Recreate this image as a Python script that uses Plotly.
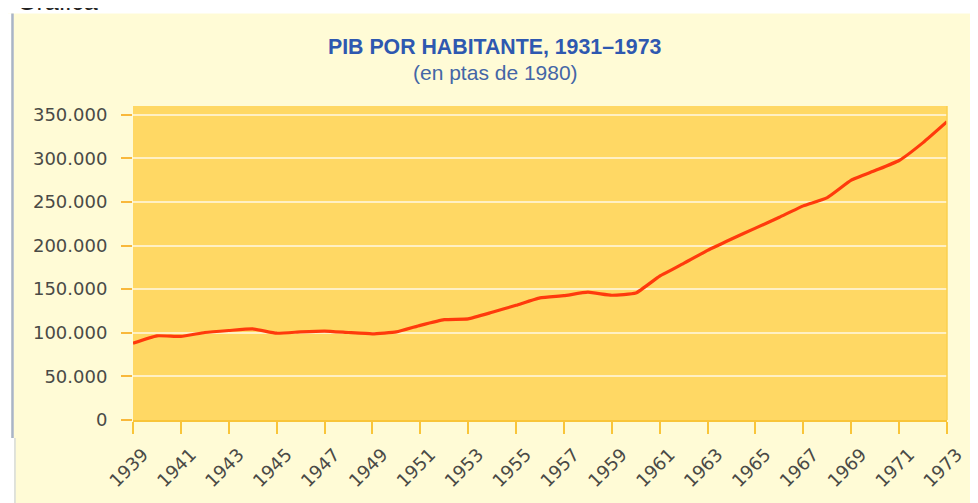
import plotly.graph_objects as go

years = list(range(1939, 1974))
pib = [88000, 96500, 95800, 100300, 102600, 104500, 99500, 101000, 102000, 100300,
       98800, 101000, 108500, 115000, 116000, 123500, 131500, 140000, 142500, 146500,
       143000, 145500, 165000, 179500, 194500, 207500, 220000, 232500, 245500, 255000,
       275000, 286000, 297500, 318000, 342000]

y_ticks = [0, 50000, 100000, 150000, 200000, 250000, 300000, 350000]
x_ticks = list(range(1939, 1974, 2))

title_text = "PIB POR HABITANTE, 1931–1973"
subtitle_text = "(en ptas de 1980)"

# page has an 8px body margin; figure is laid out in page pixels minus 8
OFF = 8
W, H = 978 - OFF, 503 - OFF
L, T = 133 - OFF, 106 - OFF
pw, ph = 824, 316
R, B = W - L - pw, H - T - ph

def px(xp):
    return (xp - OFF - L) / pw

def py(yp):
    return (T + ph - (yp - OFF)) / ph

fig = go.Figure()
fig.add_trace(go.Scatter(
    x=years, y=pib, mode="lines",
    line=dict(color="#FF3A0C", width=3.2, shape="spline", smoothing=0.4),
    hoverinfo="skip", showlegend=False,
))

tick_font = dict(family="DejaVu Sans", size=18, color="#4A4A46")

fig.update_layout(
    width=W, height=H,
    margin=dict(l=L, r=R, t=T, b=B, pad=0),
    paper_bgcolor="#FFFBD6",
    plot_bgcolor="#FFD864",
    separators=",.",
    showlegend=False,
    xaxis=dict(
        range=[1939, 1973], tickvals=x_ticks, ticktext=[str(v) for v in x_ticks],
        tickangle=-45, ticks="outside", ticklen=12, tickwidth=1.5, tickcolor="#F9C53A",
        showgrid=False, zeroline=False, showline=True, linecolor="#F9C53A", linewidth=2,
        tickfont=tick_font, ticklabelshift=10, ticklabelstandoff=3, fixedrange=True,
    ),
    yaxis=dict(
        range=[0, 360000], tickvals=y_ticks, tickformat=",d",
        ticks="outside", ticklen=11, tickwidth=1.5, tickcolor="#F9B83A",
        showgrid=True, gridcolor="#FFF0C4", gridwidth=2,
        zeroline=False, showline=False,
        tickfont=tick_font, ticklabelstandoff=10, fixedrange=True,
    ),
    shapes=[
        # white strip at top of page
        dict(type="rect", xref="paper", yref="paper",
             x0=px(-5), x1=px(990), y0=py(13), y1=py(-5),
             fillcolor="white", line=dict(width=0), layer="below"),
        # white strip at left
        dict(type="rect", xref="paper", yref="paper",
             x0=px(-5), x1=px(10), y0=py(520), y1=py(13),
             fillcolor="white", line=dict(width=0), layer="below"),
        dict(type="rect", xref="paper", yref="paper",
             x0=px(-5), x1=px(13), y0=py(520), y1=py(440),
             fillcolor="white", line=dict(width=0), layer="below"),
        # blue-grey edge line
        dict(type="line", xref="paper", yref="paper",
             x0=px(11), x1=px(11), y0=py(13), y1=py(440),
             line=dict(color="#A9B4C8", width=2.5), layer="below"),
        dict(type="line", xref="paper", yref="paper",
             x0=px(13.5), x1=px(13.5), y0=py(440), y1=py(510),
             line=dict(color="#D6DAD8", width=1.5), layer="below"),
        # right plot border
        dict(type="line", xref="paper", yref="paper",
             x0=1, x1=1, y0=0, y1=1,
             line=dict(color="#FBD04E", width=1.5), layer="above"),
    ],
    annotations=[
        dict(text="Gráfica", xref="paper", yref="paper", x=px(14), y=py(16),
             xanchor="left", yanchor="bottom", showarrow=False,
             font=dict(family="Liberation Sans", size=25, color="#222222")),
        dict(text=title_text, xref="paper", yref="paper", x=px(499), y=py(47),
             xanchor="center", yanchor="middle", showarrow=False,
             font=dict(family="Liberation Sans", size=21.3, color="#2E58B0", weight="bold")),
        dict(text=subtitle_text, xref="paper", yref="paper", x=px(500), y=py(72),
             xanchor="center", yanchor="middle", showarrow=False,
             font=dict(family="Liberation Sans", size=21, color="#4466A6")),
    ],
)

fig.write_html("out.html")
